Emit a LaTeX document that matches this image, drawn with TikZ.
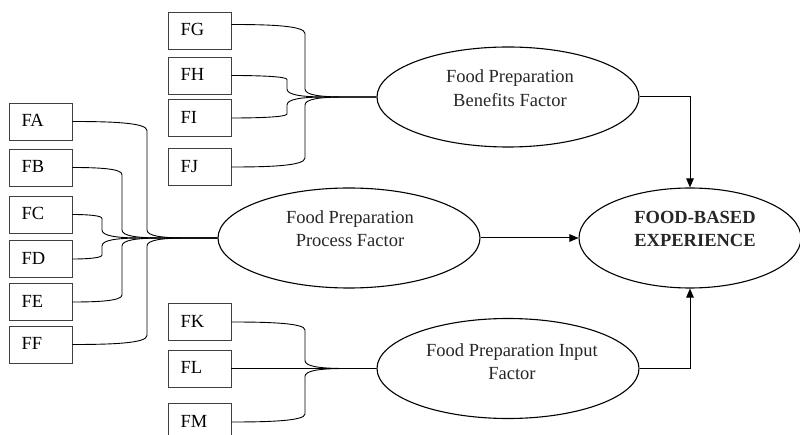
\documentclass[tikz,border=0pt]{standalone}
\usepackage{fontspec}
\setmainfont{Liberation Serif}
\usetikzlibrary{arrows.meta,calc,shapes.geometric}
\newcommand\fs{\fontsize{18.5pt}{23.5pt}\selectfont}
% #1 start point, #2 target ellipse, #3 x of vertical run, #4 direction (1 down, -1 up), #5 top bend
\newcommand\mylink[5]{%
  \draw[conn] let \p1=(#1), \p2=(#2.west) in (#1)
    .. controls ({\x1+0.5*(#3pt-\x1)},\y1) and ({#3pt},{\y1-(#4)*1pt}) .. ({#3pt},{\y1-(#4)*#5pt})
    -- ({#3pt},{\y2+(#4)*8pt})
    .. controls ({#3pt},{\y2+(#4)*2pt}) and ({#3pt+15pt},\y2) .. ({#3pt+40pt},\y2)
    -- (#2.west);}
\tikzset{
  fbox/.style={draw=black!75, line width=0.8pt, minimum width=63pt, minimum height=37pt,
    text width=38pt, inner xsep=12.5pt, inner ysep=0pt, align=left, font=\fs,
    text height=12.5pt, text depth=2pt},
  fell/.style={draw, ellipse, line width=1.1pt, minimum width=262pt, minimum height=100pt, inner sep=0pt},
  ftext/.style={align=center, font=\fs, inner sep=0pt, text=black!85},
  conn/.style={line width=0.9pt},
  arr/.style={line width=1pt, -{Triangle[length=9pt,width=7.5pt]}}
}
\begin{document}
\begin{tikzpicture}[x=1pt,y=-1pt]
\useasboundingbox (0,0) rectangle (800,435);
% boxes
\node[fbox] (FG) at (199.5,30.5) {FG};
\node[fbox] (FH) at (199.5,75.5) {FH};
\node[fbox] (FI) at (199.5,118) {FI};
\node[fbox] (FJ) at (199.5,167) {FJ};
\node[fbox] (FA) at (40.5,121.5) {FA};
\node[fbox] (FB) at (40.5,167.5) {FB};
\node[fbox] (FC) at (40.5,214.5) {FC};
\node[fbox] (FD) at (40.5,259) {FD};
\node[fbox] (FE) at (40.5,302) {FE};
\node[fbox] (FF) at (40.5,344.5) {FF};
\node[fbox] (FK) at (199.5,322) {FK};
\node[fbox] (FL) at (199.5,368.5) {FL};
\node[fbox] (FM) at (199.5,422) {FM};
% ellipses
\node[fell] (Ben) at (508,97) {};
\node[fell] (Proc) at (349,238) {};
\node[fell] (Inp) at (508,368.5) {};
\node[fell, minimum width=222pt] (FBE) at (690,238) {};
\node[ftext] (BenT) at (510,88) {Food Preparation\\Benefits Factor};
\node[ftext] (ProcT) at (350,228.5) {Food Preparation\\Process Factor};
\node[ftext] (InpT) at (512,361.5) {Food Preparation Input\\Factor};
\node[ftext, font=\fs\bfseries] (FBET) at (695,229) {FOOD-BASED\\EXPERIENCE};
% connectors
\mylink{[yshift=6pt]FG.east}{Ben}{305}{1}{9}
\mylink{FH.east}{Ben}{287}{1}{4}
\mylink{FI.east}{Ben}{287}{-1}{4}
\mylink{FJ.east}{Ben}{305}{-1}{9}
\mylink{FA.east}{Proc}{147}{1}{9}
\mylink{FB.east}{Proc}{122}{1}{7}
\mylink{FC.east}{Proc}{102}{1}{4}
\mylink{FD.east}{Proc}{102}{-1}{4}
\mylink{FE.east}{Proc}{122}{-1}{7}
\mylink{FF.east}{Proc}{147}{-1}{9}
\mylink{FK.east}{Inp}{305}{1}{8}
\mylink{FM.east}{Inp}{305}{-1}{8}
\draw[conn] (FL.east) -- (Inp.west);
% arrows
\draw[arr] (Ben.east) -| (FBE.north);
\draw[arr] (Proc.east) -- (FBE.west);
\draw[arr] (Inp.east) -| (FBE.south);
\end{tikzpicture}
\end{document}
